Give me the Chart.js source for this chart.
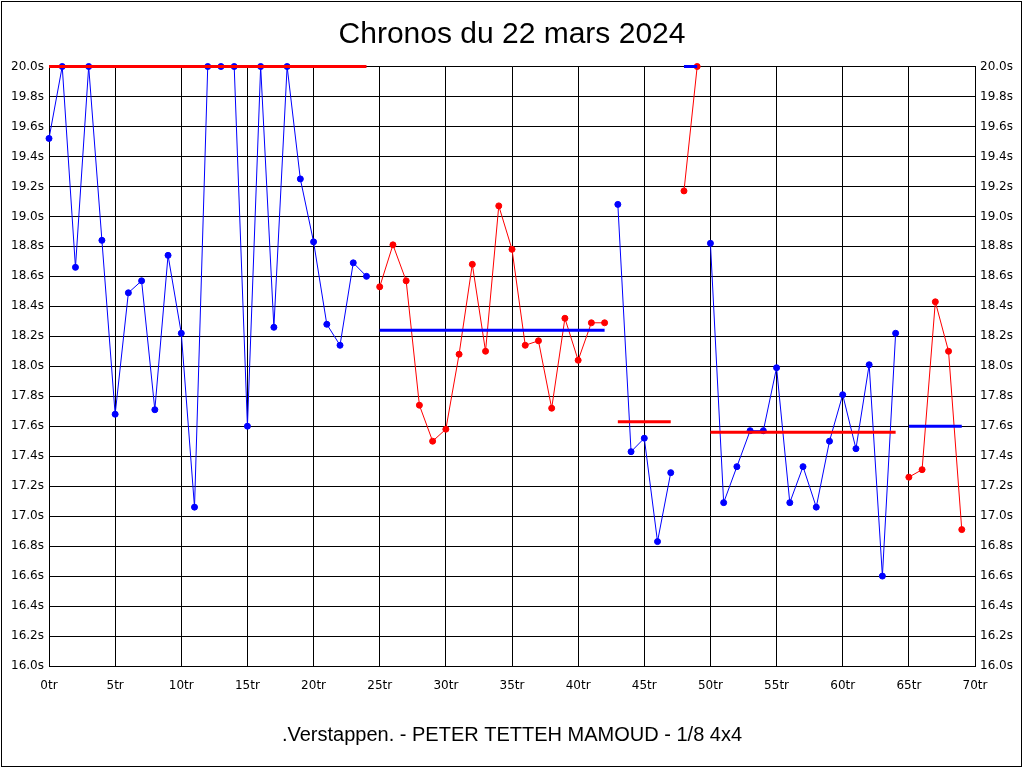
<!DOCTYPE html>
<html>
<head>
<meta charset="utf-8">
<title>Chronos du 22 mars 2024</title>
<script src="https://cdn.jsdelivr.net/npm/chart.js@4"></script>
<style>
  html, body { margin: 0; padding: 0; background: #fff; }
  #chrono { display: block; }
</style>
</head>
<body>
<canvas id="chrono" width="1024" height="768"></canvas>
<script>
// Temps au tour (s), tour 0 à 69 - les tours au-dessus de 20s sont affichés à 20.0
const tempsTours = [
    19.52, 20.0, 18.66, 20.0, 18.84, 17.68, 18.49, 18.57, 17.71, 18.74,
    18.22, 17.06, 20.0, 20.0, 20.0, 17.60, 20.0, 18.26, 20.0, 19.25,
    18.83, 18.28, 18.14, 18.69, 18.60,
    18.53, 18.81, 18.57, 17.74, 17.50, 17.58, 18.08, 18.68, 18.10, 19.07,
    18.78, 18.14, 18.17, 17.72, 18.32, 18.04, 18.29, 18.29,
    19.08, 17.43, 17.52, 16.83, 17.29,
    19.17, 20.0,
    18.82, 17.09, 17.33, 17.57, 17.57, 17.99, 17.09, 17.33, 17.06, 17.50,
    17.81, 17.45, 18.01, 16.60, 18.22,
    17.26, 17.31, 18.43, 18.10, 16.91
];

// Relais : premier et dernier tour de chaque relais, moyenne affichée
const debutRelais = [0, 25, 43, 48, 50, 65];
const finRelais = [24, 42, 47, 49, 64, 69];
const moyenneRelais = [20.0, 18.24, 17.63, 20.0, 17.56, 17.60];

const ticksX = [0, 5, 10, 15, 20, 25, 30, 35, 40, 45, 50, 55, 60, 65, 70];

const BLEU = '#0000ff';
const ROUGE = '#ff0000';
const POLICE = "'Liberation Sans', Arial, sans-serif";
const POLICE_AXES = "'DejaVu Sans', Verdana, sans-serif";

const datasets = [];
debutRelais.forEach((debut, i) => {
    const fin = finRelais[i];
    const couleur = i % 2 === 0 ? BLEU : ROUGE;
    const couleurMoy = i % 2 === 0 ? ROUGE : BLEU;
    const points = [];
    for (let t = debut; t <= fin; t++) points.push({ x: t, y: tempsTours[t] });

    datasets.push({
        data: points,
        borderColor: couleur,
        backgroundColor: couleur,
        borderWidth: 1,
        pointRadius: 3,
        pointBorderWidth: 1,
        pointHoverRadius: 3,
        tension: 0,
        clip: 5,
        order: 2
    });
    datasets.push({
        data: [{ x: debut, y: moyenneRelais[i] }, { x: fin, y: moyenneRelais[i] }],
        borderColor: couleurMoy,
        borderWidth: 3,
        pointRadius: 0,
        tension: 0,
        clip: 5,
        order: 1
    });
});

// cadre noir autour de l'image
const cadre = {
    id: 'cadre',
    afterDraw(chart) {
        const ctx = chart.ctx;
        ctx.save();
        ctx.strokeStyle = '#000';
        ctx.lineWidth = 1;
        ctx.strokeRect(1.5, 1.5, 1020, 765);
        ctx.restore();
    }
};

const fondBlanc = {
    id: 'fondBlanc',
    beforeDraw(chart) {
        const ctx = chart.ctx;
        ctx.save();
        ctx.fillStyle = '#fff';
        ctx.fillRect(0, 0, chart.width, chart.height);
        ctx.restore();
    }
};

const axeY = (position, grille) => ({
    type: 'linear',
    position: position,
    min: 16,
    max: 20,
    afterFit: s => { s.width = 49; },
    ticks: {
        stepSize: 0.2,
        color: '#000',
        padding: 5,
        font: { family: POLICE_AXES, size: 12 },
        callback: v => Number(v).toFixed(1) + 's'
    },
    grid: { display: grille, color: '#000', lineWidth: 1, drawTicks: false },
    border: { display: true, color: '#000', width: 1 }
});

new Chart(document.getElementById('chrono'), {
    type: 'line',
    data: { datasets: datasets },
    options: {
        responsive: false,
        animation: false,
        devicePixelRatio: 1,
        layout: { padding: 0 },
        plugins: {
            legend: { display: false },
            tooltip: { enabled: false },
            title: {
                display: true,
                text: 'Chronos du 22 mars 2024',
                color: '#000',
                font: { family: POLICE, size: 30, weight: 'normal' },
                padding: { top: 17, bottom: 13.5 }
            },
            subtitle: {
                display: true,
                position: 'bottom',
                text: '.Verstappen. - PETER TETTEH MAMOUD - 1/8 4x4',
                color: '#000',
                font: { family: POLICE, size: 20, weight: 'normal' },
                padding: { top: 0, bottom: 21 }
            }
        },
        scales: {
            x: {
                type: 'linear',
                min: 0,
                max: 70,
                afterFit: s => { s.height = 57; },
                afterBuildTicks: s => { s.ticks = ticksX.map(v => ({ value: v })); },
                ticks: {
                    color: '#000',
                    padding: 13,
                    maxRotation: 0,
                    font: { family: POLICE_AXES, size: 12 },
                    callback: v => v + 'tr'
                },
                grid: { color: '#000', lineWidth: 1, drawTicks: false },
                border: { display: true, color: '#000', width: 1 }
            },
            y: axeY('left', true),
            y2: axeY('right', false)
        }
    },
    plugins: [fondBlanc, cadre]
});
</script>
</body>
</html>
